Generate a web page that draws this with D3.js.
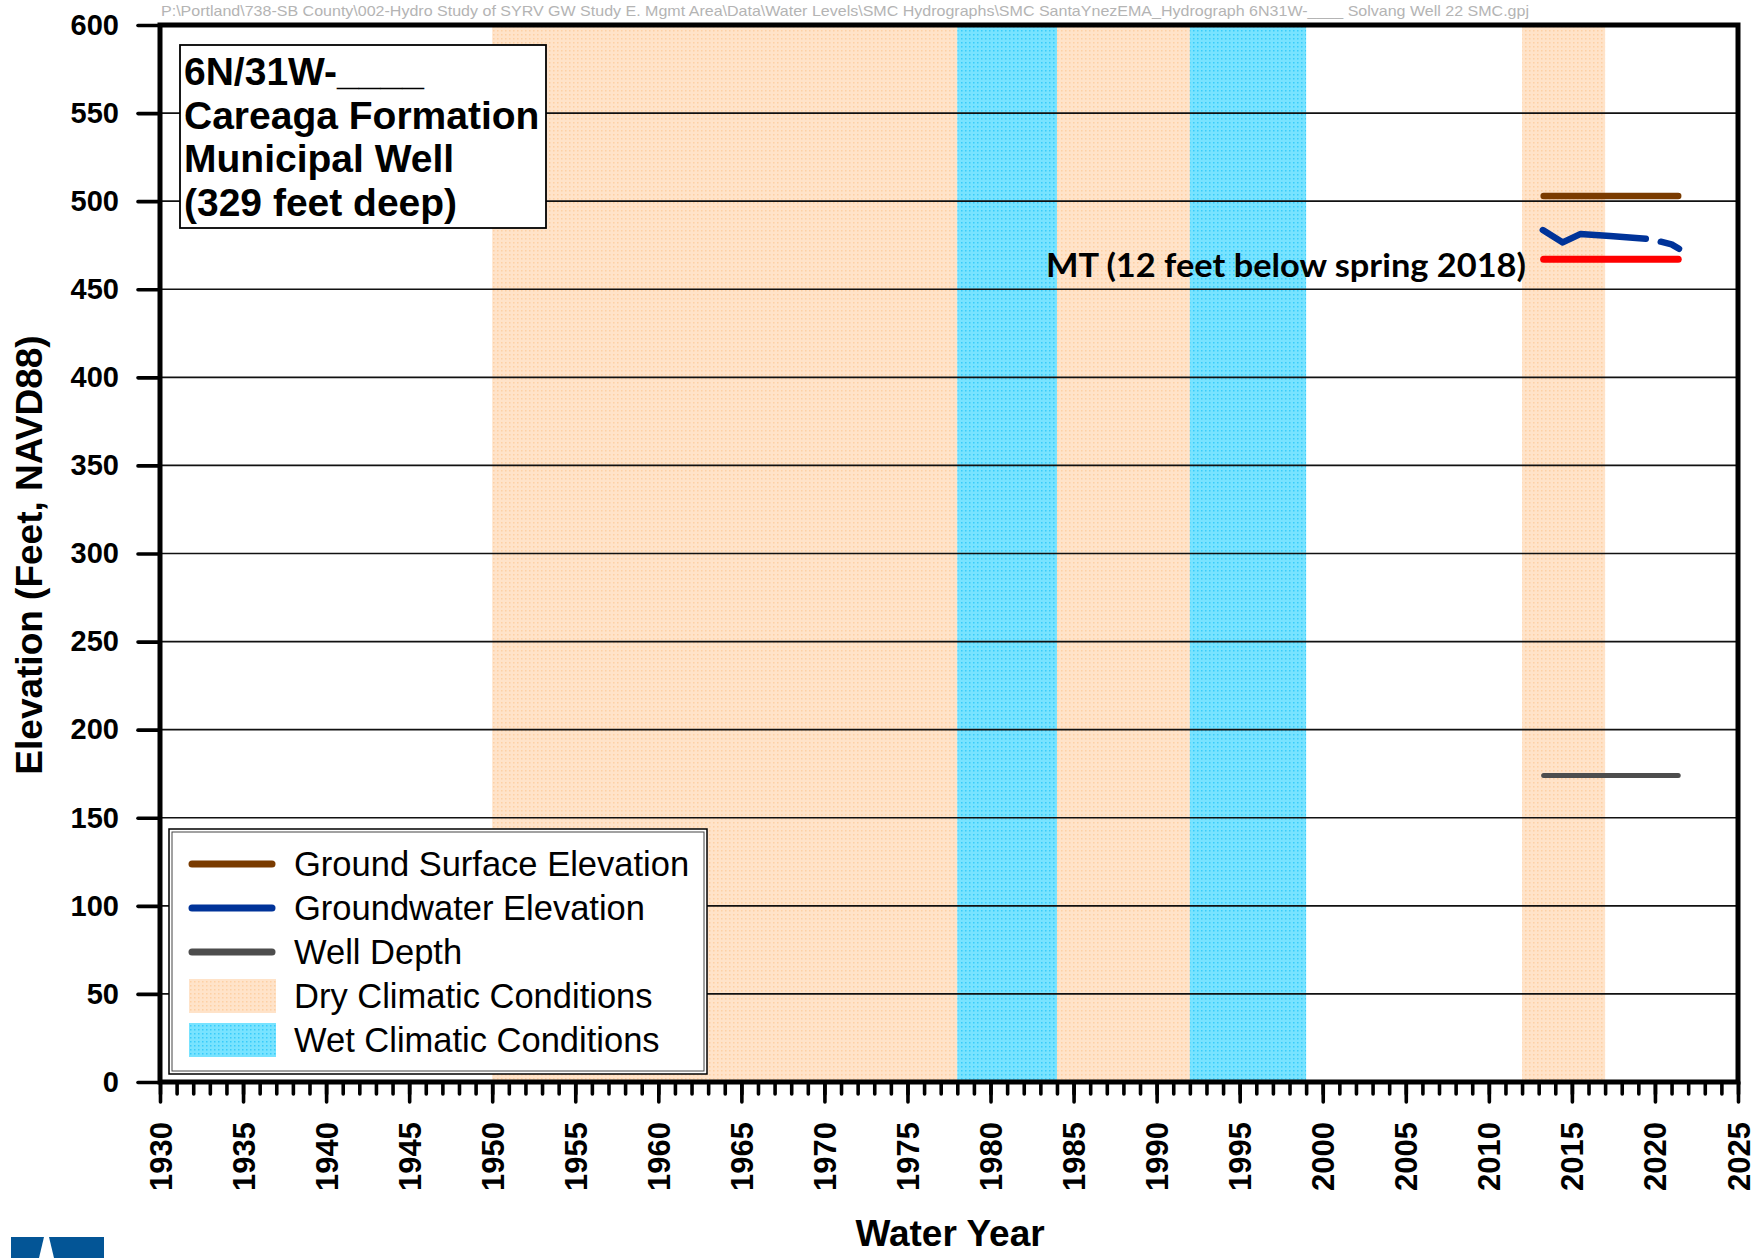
<!DOCTYPE html>
<html>
<head>
<meta charset="utf-8">
<script src="https://cdn.jsdelivr.net/npm/d3@7"></script>
<style>
  html, body { margin: 0; padding: 0; background: #fff; }
  svg text { font-family: "Liberation Sans", Arial, sans-serif; }
</style>
</head>
<body>
<div id="chart"></div>
<script>
// --- dati ---
const xTicks = [1930, 1935, 1940, 1945, 1950, 1955, 1960, 1965, 1970, 1975, 1980, 1985, 1990, 1995, 2000, 2005, 2010, 2015, 2020, 2025];
const yTicks = [0, 50, 100, 150, 200, 250, 300, 350, 400, 450, 500, 550, 600];

const dryPeriods = [[1950, 1978], [1984, 1992], [2012, 2017]];
const wetPeriods = [[1978, 1984], [1992, 1999]];

const groundSurface = [[2013.3, 503], [2021.4, 503]];
const wellDepth = [[2013.3, 174], [2021.4, 174]];
const minThreshold = [[2013.3, 467], [2021.4, 467]];

// groundwater, two pieces (gap in the record)
const gwPart1 = [[2013.25, 483.6], [2014.45, 476.6], [2015.5, 481.3], [2017.3, 480.2], [2019.45, 478.7]];
const gwPart2 = [[2020.35, 477.0], [2021.0, 475.5], [2021.45, 473.0]];

const titleLines = ['6N/31W-____', 'Careaga Formation', 'Municipal Well', '(329 feet deep)'];
const legendItems = [
  { label: 'Ground Surface Elevation', type: 'line', color: '#7a3b00' },
  { label: 'Groundwater Elevation', type: 'line', color: '#003399' },
  { label: 'Well Depth', type: 'line', color: '#4d4d4d' },
  { label: 'Dry Climatic Conditions', type: 'rect', color: 'url(#dryPat)' },
  { label: 'Wet Climatic Conditions', type: 'rect', color: 'url(#wetPat)' }
];
const pathText = 'P:\\Portland\\738-SB County\\002-Hydro Study of SYRV GW Study E. Mgmt Area\\Data\\Water Levels\\SMC Hydrographs\\SMC SantaYnezEMA_Hydrograph 6N31W-____ Solvang Well 22 SMC.gpj';

const W = 1764, H = 1258;
const margin = { top: 25, right: 26, bottom: 176, left: 160 },
  width = W - margin.left - margin.right,
  height = H - margin.top - margin.bottom;

const root = d3.select('#chart').append('svg')
  .attr('width', W).attr('height', H);

// pattern puntinato per le fasce
const defs = root.append('defs');
const dry = defs.append('pattern').attr('id', 'dryPat').attr('patternUnits', 'userSpaceOnUse').attr('width', 4).attr('height', 4);
dry.append('rect').attr('width', 4).attr('height', 4).attr('fill', '#ffe3c9');
dry.append('rect').attr('x', 1).attr('y', 1).attr('width', 1.5).attr('height', 1.5).attr('fill', '#fdd0a4');
const wet = defs.append('pattern').attr('id', 'wetPat').attr('patternUnits', 'userSpaceOnUse').attr('width', 4).attr('height', 4);
wet.append('rect').attr('width', 4).attr('height', 4).attr('fill', '#78e3ff');
wet.append('rect').attr('x', 1).attr('y', 1).attr('width', 1.5).attr('height', 1.5).attr('fill', '#38cbfa');

// file path in cima
root.append('text')
  .attr('x', 161).attr('y', 16)
  .attr('textLength', 1368).attr('lengthAdjust', 'spacingAndGlyphs')
  .style('font-size', '15px').style('fill', '#b4b4b4')
  .text(pathText);

const svg = root.append('g').attr('transform', `translate(${margin.left}, ${margin.top})`);

const x = d3.scaleLinear().domain([1930, 2025]).range([0, width]);
const y = d3.scaleLinear().domain([0, 600]).range([height, 0]);

// fasce climatiche
svg.append('g').selectAll('rect')
  .data(dryPeriods)
  .join('rect')
  .attr('x', d => x(d[0])).attr('width', d => x(d[1]) - x(d[0]))
  .attr('y', 0).attr('height', height)
  .attr('fill', 'url(#dryPat)');
svg.append('g').selectAll('rect')
  .data(wetPeriods)
  .join('rect')
  .attr('x', d => x(d[0])).attr('width', d => x(d[1]) - x(d[0]))
  .attr('y', 0).attr('height', height)
  .attr('fill', 'url(#wetPat)');

// griglia orizzontale
svg.append('g').selectAll('line')
  .data(yTicks.slice(1, -1))
  .join('line')
  .attr('x1', 0).attr('x2', width)
  .attr('y1', d => y(d)).attr('y2', d => y(d))
  .attr('stroke', '#111').attr('stroke-width', 1.6);

// linee dei dati
const line = d3.line().x(d => x(d[0])).y(d => y(d[1]));
function drawLine(data, color, w) {
  svg.append('path')
    .datum(data)
    .attr('d', line)
    .attr('fill', 'none')
    .attr('stroke', color)
    .attr('stroke-width', w)
    .attr('stroke-linecap', 'round')
    .attr('stroke-linejoin', 'round');
}
drawLine(groundSurface, '#7a3b00', 6.5);
drawLine(wellDepth, '#4d4d4d', 5);
drawLine(minThreshold, '#ff0000', 7);
drawLine(gwPart1, '#003399', 6.5);
drawLine(gwPart2, '#003399', 6.5);

// etichetta MT
svg.append('text')
  .attr('x', 1046 - margin.left).attr('y', 277 - margin.top)
  .attr('textLength', 480).attr('lengthAdjust', 'spacingAndGlyphs')
  .style('font-family', 'Lato, "Open Sans", sans-serif')
  .style('font-weight', 'bold').style('font-size', '33px')
  .text('MT (12 feet below spring 2018)');

// asse x: tacche minori e maggiori
const xMinor = svg.append('g').attr('transform', `translate(0, ${height})`)
  .call(d3.axisBottom(x).tickValues(d3.range(1930, 2026)).tickSize(12).tickFormat(''));
const xMajor = svg.append('g').attr('transform', `translate(0, ${height})`)
  .call(d3.axisBottom(x).tickValues(xTicks).tickSize(20).tickFormat(d3.format('d')));
[xMinor, xMajor].forEach(g => {
  g.select('.domain').remove();
  g.selectAll('line').attr('stroke', '#000').attr('stroke-width', 3.6).attr('stroke-linecap', 'round');
});
xMajor.selectAll('text')
  .attr('y', 0).attr('dy', null)
  .attr('transform', 'translate(11, 40) rotate(-90)')
  .attr('text-anchor', 'end')
  .style('font-size', '31px').style('font-weight', 'bold').style('fill', '#000');

// asse y
const yAxis = svg.append('g')
  .call(d3.axisLeft(y).tickValues(yTicks).tickSize(22).tickPadding(19));
yAxis.select('.domain').remove();
yAxis.selectAll('line').attr('stroke', '#000').attr('stroke-width', 3.6).attr('stroke-linecap', 'round');
yAxis.selectAll('text')
  .style('font-size', '29px').style('font-weight', 'bold').style('fill', '#000');

// cornice
svg.append('rect')
  .attr('x', 0).attr('y', 0).attr('width', width).attr('height', height)
  .attr('fill', 'none').attr('stroke', '#000').attr('stroke-width', 5);

// box titolo
const tb = svg.append('g').attr('transform', `translate(${180 - margin.left}, ${45 - margin.top})`);
tb.append('rect').attr('width', 366).attr('height', 183)
  .attr('fill', '#fff').attr('stroke', '#000').attr('stroke-width', 1.8);
tb.selectAll('text')
  .data(titleLines)
  .join('text')
  .attr('x', 4)
  .attr('y', (d, i) => 40 + i * 43.5)
  .style('font-size', '39px').style('font-weight', 'bold')
  .text(d => d);

// legenda
const lg = svg.append('g').attr('transform', `translate(${169 - margin.left}, ${829 - margin.top})`);
lg.append('rect').attr('width', 538).attr('height', 245)
  .attr('fill', '#fff').attr('stroke', '#000').attr('stroke-width', 1.5);
lg.append('rect').attr('x', 3).attr('y', 3).attr('width', 532).attr('height', 239)
  .attr('fill', 'none').attr('stroke', '#444').attr('stroke-width', 1);
const rows = lg.selectAll('g.row')
  .data(legendItems)
  .join('g')
  .attr('class', 'row')
  .attr('transform', (d, i) => `translate(0, ${35 + i * 44})`);
rows.filter(d => d.type === 'line').append('line')
  .attr('x1', 23).attr('x2', 103).attr('y1', 0).attr('y2', 0)
  .attr('stroke', d => d.color).attr('stroke-width', 7).attr('stroke-linecap', 'round');
rows.filter(d => d.type === 'rect').append('rect')
  .attr('x', 20).attr('y', -17).attr('width', 87).attr('height', 34)
  .attr('fill', d => d.color);
rows.append('text')
  .attr('x', 125).attr('y', 0).attr('dy', '0.35em')
  .style('font-size', '34.5px')
  .text(d => d.label);

// titoli degli assi
root.append('text')
  .attr('transform', 'translate(42, 555) rotate(-90)')
  .attr('text-anchor', 'middle')
  .style('font-size', '37px').style('font-weight', 'bold')
  .text('Elevation (Feet, NAVD88)');
root.append('text')
  .attr('x', 950).attr('y', 1246)
  .attr('text-anchor', 'middle')
  .style('font-size', '37px').style('font-weight', 'bold')
  .text('Water Year');

// logo in basso a sinistra
root.append('rect').attr('x', 11).attr('y', 1237).attr('width', 93).attr('height', 21).attr('fill', '#035596');
root.append('path').attr('d', 'M44,1237 L49,1237 L54,1258 L39,1258 Z').attr('fill', '#fff');
</script>
</body>
</html>
